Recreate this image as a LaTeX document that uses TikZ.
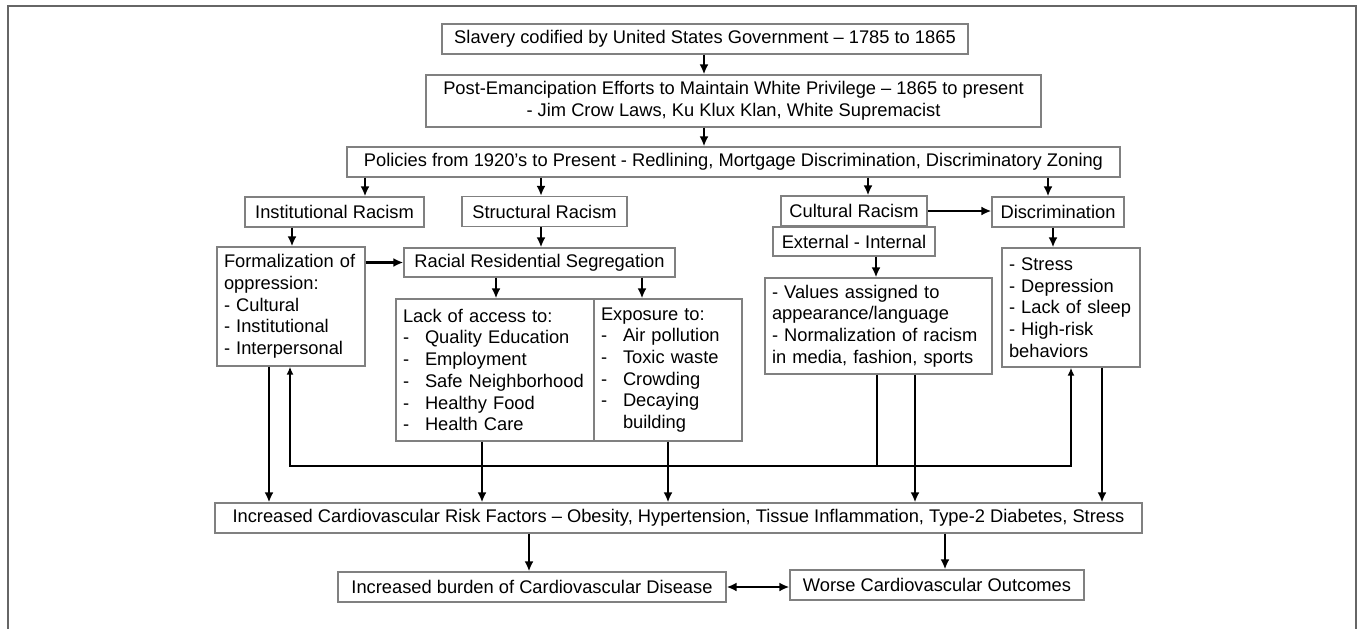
\documentclass[tikz,border=0pt]{standalone}
\usepackage{fontspec}
\setmainfont{Liberation Sans}
\usetikzlibrary{arrows.meta}
\newcommand{\dsh}{\makebox[22pt][l]{-}}
\tikzset{
  box/.style={draw=black!50, line width=1.3pt, fill=white, minimum height=30pt,
    inner xsep=7pt, inner ysep=2pt, font=\fontsize{18.3}{21.7}\selectfont},
  lbox/.style={box, align=left, text width=#1},
  arr/.style={-{Latex[length=10pt,width=9pt]}, line width=2.6pt},
  fb/.style={line width=1.8pt},
}
\begin{document}
\begin{tikzpicture}[x=1pt, y=-1pt]
      \useasboundingbox (0,0) rectangle (1358,629);
      \draw [black!60, line width=2pt] (8,629) -- (8,6) -- (1356,6) -- (1356,629);

      \node [box, minimum width=526pt] (slavery) at (705,39) {Slavery codified by United States Government – 1785 to 1865};
      \node [box, align=center, minimum width=615pt, minimum height=52pt] (postemanc) at (733.5,101)
        {Post-Emancipation Efforts to Maintain White Privilege – 1865 to present\\- Jim Crow Laws, Ku Klux Klan, White Supremacist};
      \node [box, minimum width=773pt] (policies) at (733.5,162) {Policies from 1920’s to Present - Redlining, Mortgage Discrimination, Discriminatory Zoning};

      \node [box, minimum width=179pt] (instit) at (334.5,212) {Institutional Racism};
      \node [box, minimum width=165pt] (struct) at (544.5,211.5) {Structural Racism};
      \node [box, minimum width=146pt] (cultural) at (854,211) {Cultural Racism};
      \node [box, minimum width=162pt, minimum height=29pt] (extint) at (854,241.5) {External - Internal};
      \node [box, minimum width=132pt] (discrim) at (1058,212) {Discrimination};

      \node [lbox=134pt, minimum height=119pt] (formal) at (291,306.5)
        {Formalization of\\oppression:\\- Cultural\\- Institutional\\- Interpersonal};
      \node [box, minimum width=271pt, minimum height=29pt] (segreg) at (539.5,262.5) {Racial Residential Segregation};
      \node [lbox=184pt, minimum height=142pt] (lack) at (495,370)
        {Lack of access to:\\\dsh Quality Education\\\dsh Employment\\\dsh Safe Neighborhood\\\dsh Healthy Food\\\dsh Health Care};
      \node [lbox=134pt, minimum height=142pt] (expo) at (668,370)
        {Exposure to:\\\dsh Air pollution\\\dsh Toxic waste\\\dsh Crowding\\\dsh Decaying\\\hspace*{22pt}building};
      \node [lbox=213pt, minimum height=96pt] (values) at (878.5,326)
        {- Values assigned to\\appearance/language\\- Normalization of racism\\in media, fashion, sports};
      \node [lbox=124pt, minimum height=119pt] (stress) at (1071,307.5)
        {- Stress\\- Depression\\- Lack of sleep\\- High-risk\\behaviors};

      \node [box, minimum width=927pt] (risk) at (678.5,518)
        {Increased Cardiovascular Risk Factors – Obesity, Hypertension, Tissue Inflammation, Type-2 Diabetes, Stress};
      \node [box, minimum width=388pt] (burden) at (532,587) {Increased burden of Cardiovascular Disease};
      \node [box, minimum width=294pt] (worse) at (937,585) {Worse Cardiovascular Outcomes};

      \coordinate (spine) at (704,0);
      \coordinate (xi) at (365,0);
      \coordinate (xs) at (541,0);
      \coordinate (xc) at (868,0);
      \coordinate (xd) at (1048,0);
      \coordinate (xf) at (292,0);
      \coordinate (xl) at (496,0);
      \coordinate (xe) at (642,0);
      \coordinate (xv) at (876,0);
      \coordinate (xst) at (1053,0);
      \coordinate (dform) at (269,0);
      \coordinate (dlack) at (482,0);
      \coordinate (dexpo) at (668,0);
      \coordinate (dval) at (915,0);
      \coordinate (dstr) at (1102,0);
      \coordinate (dbur) at (529,0);
      \coordinate (dwor) at (945,0);
      \coordinate (fbl) at (290,466);
      \coordinate (fbm) at (877,466);
      \coordinate (fbr) at (1071,466);

      \draw [arr] (slavery.south -| spine) -- (postemanc.north -| spine);
      \draw [arr] (postemanc.south -| spine) -- (policies.north -| spine);
      \draw [arr] (policies.south -| xi) -- (instit.north -| xi);
      \draw [arr] (policies.south -| xs) -- (struct.north -| xs);
      \draw [arr] (policies.south -| xc) -- (cultural.north -| xc);
      \draw [arr] (policies.south -| xd) -- (discrim.north -| xd);

      \draw [arr] (instit.south -| xf) -- (formal.north -| xf);
      \draw [arr] (struct.south -| xs) -- (segreg.north -| xs);
      \draw [arr] (formal.east |- segreg) -- (segreg.west);
      \draw [arr] (segreg.south -| xl) -- (lack.north -| xl);
      \draw [arr] (segreg.south -| xe) -- (expo.north -| xe);
      \draw [arr] (cultural.east) -- (discrim.west |- cultural);
      \draw [arr] (extint.south -| xv) -- (values.north -| xv);
      \draw [arr] (discrim.south -| xst) -- (stress.north -| xst);

      \draw [fb] (values.south -| fbm) -- (fbm);
      \draw [fb, {Latex[length=8pt,width=7pt]}-{Latex[length=8pt,width=7pt]}]
        (formal.south -| fbl) -- (fbl) -- (fbr) -- (stress.south -| fbr);

      \draw [arr] (formal.south -| dform) -- (risk.north -| dform);
      \draw [arr] (lack.south -| dlack) -- (risk.north -| dlack);
      \draw [arr] (expo.south -| dexpo) -- (risk.north -| dexpo);
      \draw [arr] (values.south -| dval) -- (risk.north -| dval);
      \draw [arr] (stress.south -| dstr) -- (risk.north -| dstr);

      \draw [arr] (risk.south -| dbur) -- (burden.north -| dbur);
      \draw [arr] (risk.south -| dwor) -- (worse.north -| dwor);
      \draw [arr, {Latex[length=10pt,width=9pt]}-{Latex[length=10pt,width=9pt]}] (burden.east) -- (worse.west |- burden);
    \end{tikzpicture}
\end{document}
